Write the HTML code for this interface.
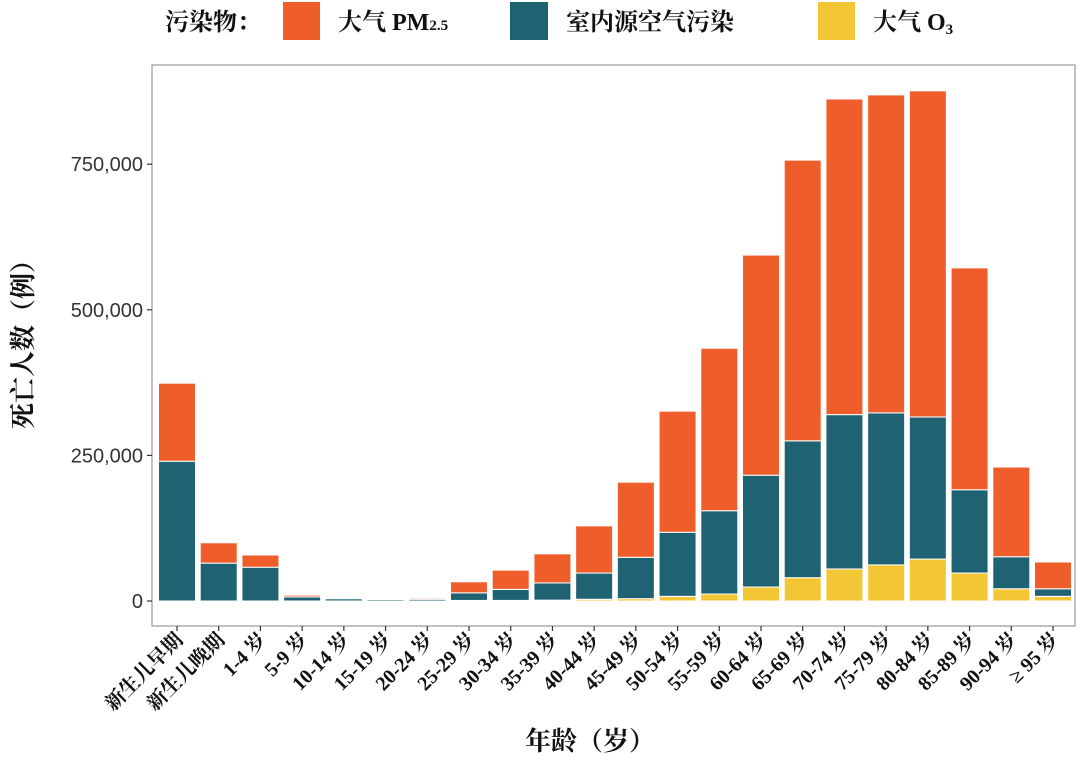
<!DOCTYPE html>
<html><head><meta charset="utf-8">
<style>
body{margin:0;background:#fff;width:1080px;height:758px;overflow:hidden}
svg text{font-family:"Liberation Serif","Noto Serif CJK SC",serif}
</style></head>
<body>
<svg id="chart" width="1080" height="758" xmlns="http://www.w3.org/2000/svg">
<g>
<text x="165" y="30" font-size="24" font-weight="bold" fill="#111">污染物：</text>
<rect x="283" y="2" width="37" height="38" fill="#ef5e2a"/>
<text x="338" y="30" font-size="24" font-weight="bold" fill="#111">大气 PM<tspan font-size="15">2.5</tspan></text>
<rect x="510" y="2" width="38" height="38" fill="#1f6272"/>
<text x="566" y="30" font-size="24" font-weight="bold" fill="#111">室内源空气污染</text>
<rect x="818" y="2" width="37" height="38" fill="#f2c634"/>
<text x="873" y="30" font-size="24" font-weight="bold" fill="#111">大气 O<tspan font-size="15" dy="4">3</tspan></text>
</g>
<rect x="152" y="65" width="923" height="561" fill="#fff" stroke="#999" stroke-width="1.2"/>
<g id="bars"></g>
<g id="yaxis"></g>
<g id="xaxis"></g>
<text transform="translate(32,338) rotate(-90)" text-anchor="middle" font-size="26" font-weight="bold" fill="#111">死亡人数（例）</text>
<text x="590" y="750" text-anchor="middle" font-size="26" font-weight="bold" fill="#111">年龄（岁）</text>
</svg>
<script>
const categories=["新生儿早期","新生儿晚期","1-4 岁","5-9 岁","10-14 岁","15-19 岁","20-24 岁","25-29 岁","30-34 岁","35-39 岁","40-44 岁","45-49 岁","50-54 岁","55-59 岁","60-64 岁","65-69 岁","70-74 岁","75-79 岁","80-84 岁","85-89 岁","90-94 岁","≥ 95 岁"];
const o3Values=[0,0,0,0,0,0,0,1000,1000,1500,3000,4000,8000,12000,24000,40000,55000,62000,72000,48000,21000,8000];
const indoorValues=[240000,65000,58000,7000,4000,2500,3000,13000,19000,29500,45000,71000,110000,143000,192000,235000,265000,261000,244000,143000,55000,13000];
const pm25Values=[134000,35000,21000,3000,1000,500,2000,19000,33000,50000,81000,129000,208000,279000,378000,482000,542000,546000,560000,381000,154000,46000];
const yTicks=[0,250000,500000,750000];
const yTickLabels=["0","250,000","500,000","750,000"];
const NS="http://www.w3.org/2000/svg";
const y0=601, pxPer=145.6/250000;
function yScale(v){return y0-v*pxPer;}
const x0=177, step=(1053-177)/21, bw=37;
function xScale(i){return x0+i*step;}
function mk(tag,attrs,parent){const e=document.createElementNS(NS,tag);for(const k in attrs)e.setAttribute(k,attrs[k]);parent.appendChild(e);return e;}
const bars=document.getElementById('bars');
const series=[[o3Values,"#f2c634","o3"],[indoorValues,"#1f6272","indoor"],[pm25Values,"#ef5e2a","pm25"]];
categories.forEach((c,i)=>{
  let base=0;
  series.forEach(([vals,col,nm])=>{
    const v=vals[i]; if(v<=0)return;
    const r=mk('rect',{x:xScale(i)-bw/2,y:yScale(base+v),width:bw,height:yScale(base)-yScale(base+v),fill:col,stroke:"#fff","stroke-width":1},bars);
    
    
    base+=v;
  });
});
const ya=document.getElementById('yaxis');
yTicks.forEach((t,i)=>{
  const y=yScale(t);
  const l=mk('line',{x1:147,x2:152,y1:y,y2:y,stroke:"#333","stroke-width":1.2},ya);
  
  
  const tx=mk('text',{x:143,y:y+7,"text-anchor":"end","font-size":20,fill:"#333",style:'font-family:"Liberation Sans",sans-serif'},ya);
  
  
  tx.textContent=yTickLabels[i];
});
const xa=document.getElementById('xaxis');
categories.forEach((c,i)=>{
  const x=xScale(i);
  const l=mk('line',{x1:x,x2:x,y1:626,y2:631,stroke:"#333","stroke-width":1.2},xa);
  
  
  const tx=mk('text',{transform:`translate(${x+7},${641}) rotate(-45)`,"text-anchor":"end","font-size":20,"font-weight":"bold",fill:"#111"},xa);
  
  
  tx.textContent=c;
});
</script>
</body></html>
